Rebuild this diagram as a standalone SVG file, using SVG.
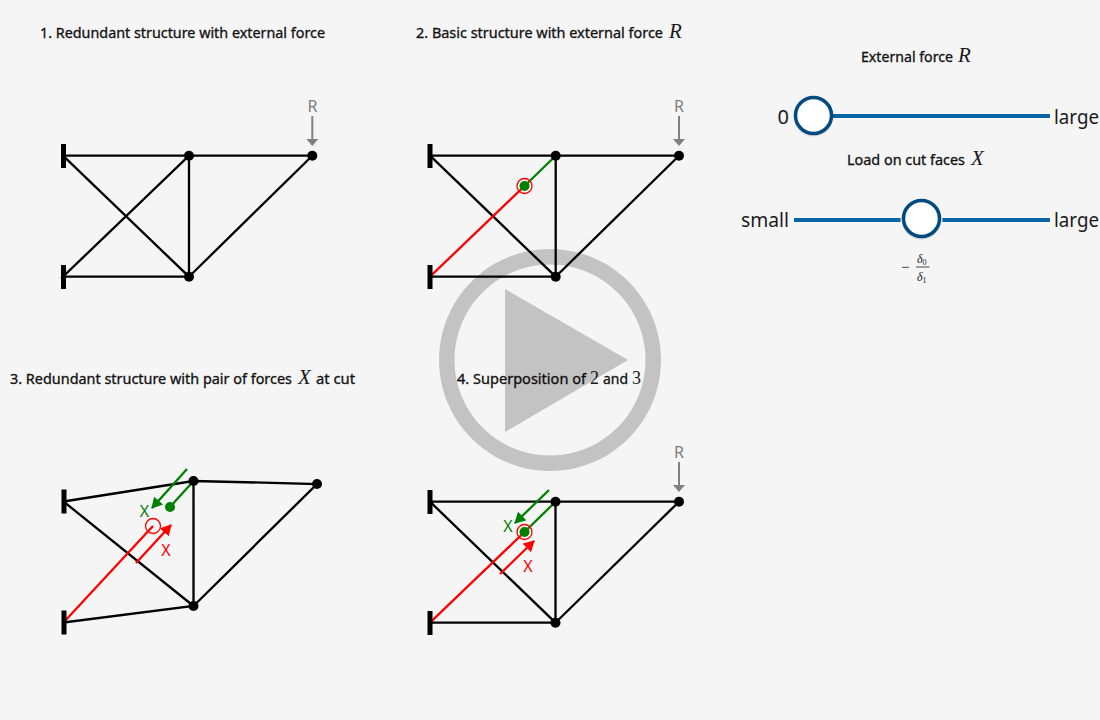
<svg xmlns="http://www.w3.org/2000/svg" width="1100" height="720" viewBox="0 0 1100 720">
<style>
.t{font-family:"Noto Sans","Open Sans","Liberation Sans",sans-serif;font-size:14px;font-weight:400;fill:#111;stroke:#111;stroke-width:.3}
.m{font-family:"Liberation Serif",serif;font-style:italic;font-size:21px;fill:#1a1a1a}
.n{font-family:"Liberation Serif",serif;font-size:18px;fill:#1a1a1a}
.s{font-family:"Noto Sans","Open Sans","Liberation Sans",sans-serif;font-size:20px;fill:#1a1a1a}
.f{font-family:"Noto Sans","Open Sans","Liberation Sans",sans-serif;font-size:16px;text-anchor:middle}
.b{stroke:#000;stroke-width:2.300;fill:none}
.r{stroke:#f00;stroke-width:2.300;fill:none}
.g{stroke:#008000;stroke-width:2.300;fill:none}
.y{stroke:#808080;stroke-width:2;fill:none}
.w{fill:#000}
.tr{stroke:#0865a6;stroke-width:4}
.k{fill:#fff;stroke:#004a80;stroke-width:3.500}
</style>
<defs>
<marker id="ar" markerUnits="userSpaceOnUse" markerWidth="14" markerHeight="14" refX="10" refY="6" orient="auto"><path d="M0 0L11 6L0 12Z" fill="#f00"/></marker>
<marker id="ag" markerUnits="userSpaceOnUse" markerWidth="14" markerHeight="14" refX="10" refY="6" orient="auto"><path d="M0 0L11 6L0 12Z" fill="#008000"/></marker>
<marker id="ay" markerUnits="userSpaceOnUse" markerWidth="14" markerHeight="14" refX="6" refY="6" orient="auto"><path d="M0 0L7 6L0 12Z" fill="#808080"/></marker>
</defs>
<rect width="1100" height="720" fill="#f5f5f5"/>

<g id="titles">
<text class="t" x="40" y="38" textLength="285" lengthAdjust="spacingAndGlyphs">1. Redundant structure with external force</text>
<text class="t" x="416" y="38" textLength="247" lengthAdjust="spacingAndGlyphs">2. Basic structure with external force</text><text class="m" x="669" y="38">R</text>
<text class="t" x="10" y="384" textLength="282" lengthAdjust="spacingAndGlyphs">3. Redundant structure with pair of forces</text><text class="m" x="298" y="384">X</text><text class="t" x="316" y="384" textLength="39" lengthAdjust="spacingAndGlyphs">at cut</text>
<text class="t" x="457" y="384" textLength="129" lengthAdjust="spacingAndGlyphs">4. Superposition of</text><text class="n" x="590" y="384">2</text><text class="t" x="603" y="384" textLength="25" lengthAdjust="spacingAndGlyphs">and</text><text class="n" x="632" y="384">3</text>
</g>

<g id="connectors">
<g id="panel1-members">
<path class="b" d="M63 155.700H312.300L189 276.700H63L189 155.700V276.700L63 155.700"/>
<path class="y" d="M312.300 116V145" marker-end="url(#ay)"/>
</g>
<g id="panel2-members">
<path class="b" d="M430 155.700H679L555.700 276.700H430M555.700 155.700V276.700L430 155.700"/>
<path class="g" d="M555.700 155.700L524.500 186"/>
<path class="r" d="M430 276.700L524.500 186"/>
<path class="y" d="M679 116V145" marker-end="url(#ay)"/>
</g>
<g id="panel3-members">
<path class="b" d="M63.500 501.500L193.500 481L317 484L193.500 606L63.500 622.500M193.500 481V606L63.500 501.500"/>
<path class="g" d="M193.500 481L170 507"/>
<path class="r" d="M63.500 622.500L153 526"/>
<path class="g" d="M187 469L152 508" marker-end="url(#ag)"/>
<path class="r" d="M136 563L171 525" marker-end="url(#ar)"/>
</g>
<g id="panel4-members">
<path class="b" d="M430 501.700H679L555.500 622.700H430M555.500 501.700V622.700L430 501.700"/>
<path class="g" d="M555.500 501.700L524.500 532"/>
<path class="r" d="M430 622.700L524.500 532"/>
<path class="g" d="M549 490L515 523" marker-end="url(#ag)"/>
<path class="r" d="M500 574L534 541" marker-end="url(#ar)"/>
<path class="y" d="M679 462V491" marker-end="url(#ay)"/>
</g>
</g>

<g id="panel1-nodes">
<rect class="w" x="61" y="144" width="5" height="24"/><rect class="w" x="61" y="265" width="5" height="24"/>
<circle class="w" cx="189" cy="155.700" r="5"/><circle class="w" cx="189" cy="276.700" r="5"/><circle class="w" cx="312.300" cy="155.700" r="5"/>
<text class="f" x="312.500" y="112" fill="#808080">R</text>
</g>
<g id="panel2-nodes">
<rect class="w" x="427.500" y="144" width="5" height="24"/><rect class="w" x="427.500" y="265" width="5" height="24"/>
<circle class="w" cx="555.700" cy="155.700" r="5"/><circle class="w" cx="555.700" cy="276.700" r="5"/><circle class="w" cx="679" cy="155.700" r="5"/>
<circle cx="524.500" cy="186" r="7.500" fill="none" stroke="#f00" stroke-width="1.300"/><circle cx="524.500" cy="186" r="5" fill="#008000"/>
<text class="f" x="679" y="112" fill="#808080">R</text>
</g>
<g id="panel3-nodes">
<rect class="w" x="61.500" y="489.500" width="5" height="24"/><rect class="w" x="61.500" y="610.500" width="5" height="24"/>
<circle class="w" cx="193.500" cy="481" r="5"/><circle class="w" cx="193.500" cy="606" r="5"/><circle class="w" cx="317" cy="484" r="5"/>
<circle cx="170" cy="507" r="5" fill="#008000"/><circle cx="153" cy="526" r="7.500" fill="none" stroke="#f00" stroke-width="1.300"/>
<text class="f" x="144.500" y="516.500" fill="#008000">X</text><text class="f" x="166" y="555.500" fill="#f00">X</text>
</g>
<g id="panel4-nodes">
<rect class="w" x="427.500" y="490" width="5" height="24"/><rect class="w" x="427.500" y="611" width="5" height="24"/>
<circle class="w" cx="555.500" cy="501.700" r="5"/><circle class="w" cx="555.500" cy="622.700" r="5"/><circle class="w" cx="679" cy="501.700" r="5"/>
<circle cx="524.500" cy="532" r="7.500" fill="none" stroke="#f00" stroke-width="1.300"/><circle cx="524.500" cy="532" r="5" fill="#008000"/>
<text class="f" x="508" y="531.500" fill="#008000">X</text><text class="f" x="528" y="571.500" fill="#f00">X</text>
<text class="f" x="679" y="458" fill="#808080">R</text>
</g>

<g id="slider-r">
<text class="t" x="861" y="62" textLength="92" lengthAdjust="spacingAndGlyphs">External force</text><text class="m" x="958" y="62">R</text>
<line class="tr" x1="833" y1="116" x2="1050" y2="116"/>
<circle cx="813.500" cy="116.500" r="20" fill="#000" opacity=".12"/>
<circle class="k" cx="813.500" cy="115.500" r="18"/>
<text class="s" x="789" y="124" text-anchor="end">0</text>
<text class="s" x="1054" y="124" textLength="45" lengthAdjust="spacingAndGlyphs">large</text>
</g>
<g id="slider-x">
<text class="t" x="847" y="165" textLength="118" lengthAdjust="spacingAndGlyphs">Load on cut faces</text><text class="m" x="971" y="165">X</text>
<line class="tr" x1="794" y1="220" x2="1050" y2="220"/>
<circle cx="921.500" cy="220" r="21" fill="#f5f5f5"/>
<circle cx="921.500" cy="219.500" r="20" fill="#000" opacity=".12"/>
<circle class="k" cx="921.500" cy="218.500" r="18"/>
<text class="s" x="741" y="227" textLength="48" lengthAdjust="spacingAndGlyphs">small</text>
<text class="s" x="1054" y="227" textLength="45" lengthAdjust="spacingAndGlyphs">large</text>
<g id="ratio" fill="#1a1a1a" font-family="Liberation Serif,serif">
<text x="901" y="272" font-size="15">−</text>
<text x="917" y="263" font-size="12" font-style="italic">δ<tspan font-size="8" font-style="normal" dy="1.500">0</tspan></text>
<line x1="916" y1="267" x2="929.500" y2="267" stroke="#1a1a1a" stroke-width=".8"/>
<text x="917" y="281" font-size="12" font-style="italic">δ<tspan font-size="8" font-style="normal" dy="1.500">1</tspan></text>
</g>
</g>

<g id="play" fill="#000" opacity=".2">
<path fill-rule="evenodd" d="M550 249a111 111 0 1 0 .01 0ZM550 264.500a95.500 95.500 0 1 1 -.01 0Z"/>
<path d="M505 289L628 360L505 432Z"/>
</g>
</svg>
